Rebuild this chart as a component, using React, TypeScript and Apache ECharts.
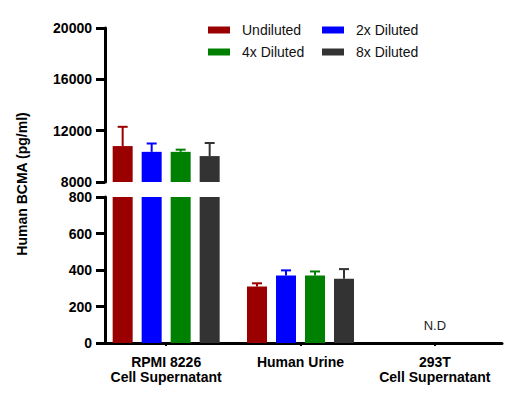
import React, { useEffect, useRef } from "react";
import * as echarts from "echarts";

const categories = ["RPMI 8226\nCell Supernatant", "Human Urine", "293T\nCell Supernatant"];
const seriesNames = ["Undiluted", "2x Diluted", "4x Diluted", "8x Diluted"];
const seriesColors = ["#9b0000", "#0000ff", "#008000", "#333333"];

const undiluted = [10800, 310, null];
const diluted2x = [10350, 370, null];
const diluted4x = [10350, 370, null];
const diluted8x = [10020, 352, null];
const errUndiluted = [1500, 17, null];
const err2x = [650, 28, null];
const err4x = [170, 22, null];
const err8x = [1020, 53, null];

const upperTicks = { min: 8000, max: 20000, interval: 4000 };
const lowerTicks = { min: 0, max: 800, interval: 200 };
const ndCategory = 2;
const ndText = "N.D";
const yTitle = "Human BCMA (pg/ml)";

const values = [undiluted, diluted2x, diluted4x, diluted8x];
const errors = [errUndiluted, err2x, err4x, err8x];

const BAR_W = 20;
const BAR_GAP = 9;
const FONT = "'Liberation Sans', Arial, sans-serif";

export default function App() {
  const ref = useRef<HTMLDivElement>(null);
  useEffect(() => {
    if (!ref.current) return;
    const chart = echarts.init(ref.current, null, { renderer: "svg" });

    const axisLabel = {
      fontSize: 14,
      fontWeight: "bold",
      color: "#000",
      fontFamily: FONT,
      margin: 13,
      formatter: (v: number) => String(v),
    };
    const axisLine = { show: true, lineStyle: { color: "#000", width: 3 } };
    const axisTick = { show: true, length: 9, lineStyle: { color: "#000", width: 3 } };

    const series: any[] = [];
    [0, 1].forEach((g) => {
      values.forEach((vals, i) => {
        series.push({
          type: "bar",
          name: seriesNames[i],
          xAxisIndex: g,
          yAxisIndex: g,
          data: vals.map((v) => (v == null ? "-" : v)),
          barWidth: BAR_W,
          barGap: (BAR_GAP / BAR_W) * 100 + "%",
          itemStyle: { color: seriesColors[i] },
          clip: true,
        });
      });
    });
    values.forEach((vals, i) => {
      const offset = (i - 1.5) * (BAR_W + BAR_GAP);
      [0, 1].forEach((g) => {
        const data: any[] = [];
        vals.forEach((v, c) => {
          const e = errors[i][c];
          if (v == null || e == null) return;
          const inUpper = v >= upperTicks.min;
          if ((g === 0) === inUpper) data.push([c, v, e]);
        });
        series.push({
          type: "custom",
          xAxisIndex: g,
          yAxisIndex: g,
          z: 5,
          data,
          renderItem: (params: any, api: any) => {
            const c = api.value(0);
            const v = api.value(1);
            const e = api.value(2);
            const base = api.coord([c, v]);
            const top = api.coord([c, v + e]);
            const cx = base[0] + offset;
            const st = { stroke: seriesColors[i], lineWidth: 2 };
            return {
              type: "group",
              children: [
                { type: "line", shape: { x1: cx, y1: base[1], x2: cx, y2: top[1] }, style: st },
                { type: "line", shape: { x1: cx - 5, y1: top[1], x2: cx + 5, y2: top[1] }, style: st },
              ],
            };
          },
        });
      });
    });
    series.push({
      type: "custom",
      xAxisIndex: 1,
      yAxisIndex: 1,
      data: [[ndCategory, 0]],
      renderItem: (params: any, api: any) => {
        const p = api.coord([api.value(0), api.value(1)]);
        return {
          type: "text",
          x: p[0],
          y: p[1] - 18,
          style: { text: ndText, fill: "#222", font: `13px ${FONT}`, align: "center", verticalAlign: "middle" },
        };
      },
    });

    const legendCommon = {
      orient: "vertical",
      top: 23,
      padding: 0,
      itemWidth: 22,
      itemHeight: 7,
      itemGap: 8,
      icon: "rect",
      selectedMode: false,
      textStyle: { fontSize: 14, color: "#111", fontFamily: FONT, padding: [0, 0, 0, 7] },
    };

    chart.setOption({
      animation: false,
      backgroundColor: "#fff",
      textStyle: { fontFamily: FONT },
      legend: [
        { ...legendCommon, left: 208, data: [seriesNames[0], seriesNames[2]] },
        { ...legendCommon, left: 322, data: [seriesNames[1], seriesNames[3]] },
      ],
      grid: [
        { left: 99, width: 403, top: 28, height: 154 },
        { left: 99, width: 403, top: 197, height: 146 },
      ],
      xAxis: [
        { type: "category", gridIndex: 0, data: categories, show: false },
        {
          type: "category",
          gridIndex: 1,
          data: categories,
          axisLine,
          axisTick: { show: true, alignWithLabel: true, length: 3, lineStyle: { color: "#000", width: 2 } },
          axisLabel: { ...axisLabel, margin: 11, lineHeight: 15, interval: 0, formatter: undefined },
        },
      ],
      yAxis: [
        {
          type: "value",
          gridIndex: 0,
          offset: -6,
          ...upperTicks,
          axisLine,
          axisTick,
          axisLabel,
          splitLine: { show: false },
        },
        {
          type: "value",
          gridIndex: 1,
          offset: -6,
          ...lowerTicks,
          axisLine,
          axisTick,
          axisLabel,
          splitLine: { show: false },
        },
      ],
      graphic: [
        {
          type: "text",
          x: 22,
          y: 184,
          rotation: Math.PI / 2,
          style: { text: yTitle, fill: "#000", font: `bold 14px ${FONT}`, align: "center", verticalAlign: "middle" },
        },
      ],
      series,
    });
    return () => chart.dispose();
  }, []);
  return <div ref={ref} style={{ position: "fixed", left: 0, top: 0, width: 508, height: 399 }} />;
}
